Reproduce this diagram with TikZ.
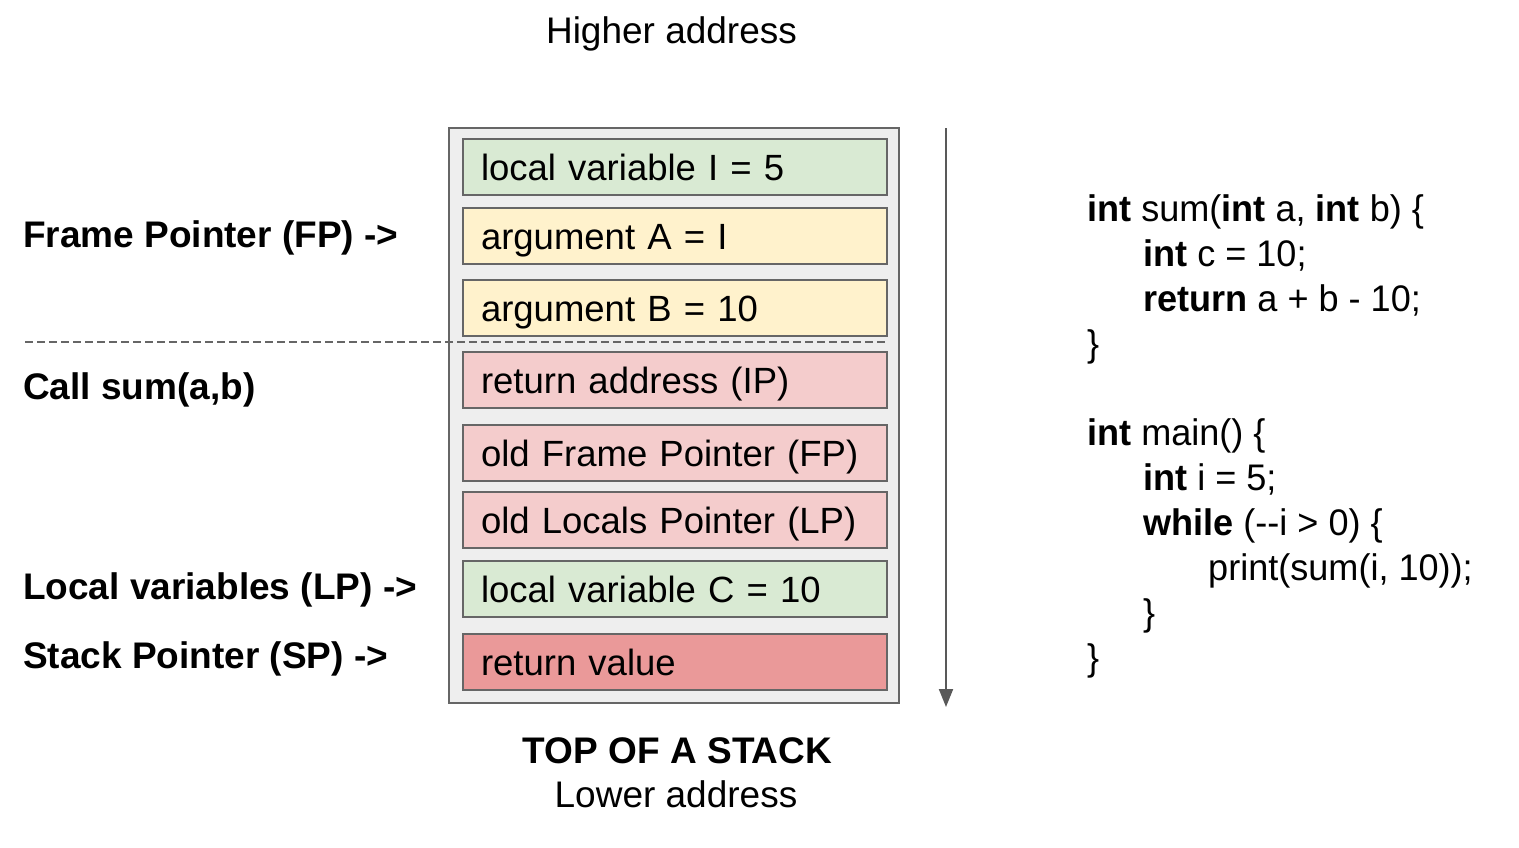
\documentclass[tikz,border=0pt]{standalone}
\usepackage{fontspec}
\setmainfont{Liberation Sans}
\newfontfamily\codefont[FakeStretch=0.975]{Liberation Sans}
\usetikzlibrary{arrows.meta}
\definecolor{bgray}{HTML}{EEEEEE}
\definecolor{edge}{HTML}{666666}
\definecolor{cgreen}{HTML}{D9EAD3}
\definecolor{cyellow}{HTML}{FFF2CC}
\definecolor{cpink}{HTML}{F4CCCC}
\definecolor{cred}{HTML}{EA9999}
\definecolor{arrowgray}{HTML}{595959}
\begin{document}
\begin{tikzpicture}[x=1pt,y=-1pt,
  every node/.style={font=\fontsize{37}{44}\selectfont},
  cell/.style={draw=edge, line width=2pt, minimum width=424pt, minimum height=56pt,
    text width=388pt, inner xsep=18pt, inner ysep=0pt, align=left,
    font=\fontsize{36.5}{44}\selectfont,
    text height=26.3pt, text depth=0pt, anchor=north west},
  lbl/.style={anchor=base west, inner sep=0pt, font=\fontsize{37}{44}\selectfont\bfseries},
  plain/.style={anchor=base, inner sep=0pt},
  code/.style={anchor=base west, inner sep=0pt, font=\codefont\fontsize{37}{44}\selectfont}]
\useasboundingbox (0,0) rectangle (1519,847);

% stack container
\node[draw=edge, fill=bgray, line width=2pt, minimum width=450pt, minimum height=575pt,
  inner sep=0pt, anchor=north west] (stack) at (448,127) {};

\node[cell, fill=cgreen]  (c1) at (462,138) {local variable I = 5};
\node[cell, fill=cyellow] (c2) at (462,207) {argument A = I};
\node[cell, fill=cyellow] (c3) at (462,279) {argument B = 10};
\node[cell, fill=cpink]   (c4) at (462,351) {return address (IP)};
\node[cell, fill=cpink]   (c5) at (462,424) {old Frame Pointer (FP)};
\node[cell, fill=cpink]   (c6) at (462,491) {old Locals Pointer (LP)};
\node[cell, fill=cgreen]  (c7) at (462,560) {local variable C = 10};
\node[cell, fill=cred]    (c8) at (462,633) {return value};

% dashed separator
\coordinate (dl) at (25,342);
\coordinate (dr) at (887,342);
\draw[edge, line width=1.5pt, dash pattern=on 8pt off 4pt] (dl) -- (dr);

% direction arrow
\coordinate (atop) at (946,128);
\coordinate (abot) at (946,707);
\draw[arrowgray, line width=2pt, -{Triangle[length=18pt,width=14pt]}] (atop) -- (abot);

% top / bottom captions
\node[plain] (hi) at (671.5,43) {Higher address};
\node[plain, font=\fontsize{37}{44}\selectfont\bfseries] (top) at (677.5,763) {TOP OF A STACK};
\node[plain] (lo) at (676,807) {Lower address};

% left labels
\node[lbl] (fp) at (23,247) {Frame Pointer (FP) ->};
\node[lbl] (call) at (23,399) {Call sum(a,b)};
\node[lbl] (lp) at (23,599) {Local variables (LP) ->};
\node[lbl] (sp) at (23,668) {Stack Pointer (SP) ->};

% code
\node[code] (k1) at (1087,221) {\textbf{int} sum(\textbf{int} a, \textbf{int} b) \{};
\node[code] (k2) at (1143,266) {\textbf{int} c = 10;};
\node[code] (k3) at (1143,311) {\textbf{return} a + b - 10;};
\node[code] (k4) at (1087,356) {\}};
\node[code] (k5) at (1087,445) {\textbf{int} main() \{};
\node[code] (k6) at (1143,490) {\textbf{int} i = 5;};
\node[code] (k7) at (1143,535) {\textbf{while} ({-}{-}i > 0) \{};
\node[code] (k8) at (1208,580) {print(sum(i, 10));};
\node[code] (k9) at (1143,625) {\}};
\node[code] (k10) at (1087,670) {\}};
\end{tikzpicture}
\end{document}
